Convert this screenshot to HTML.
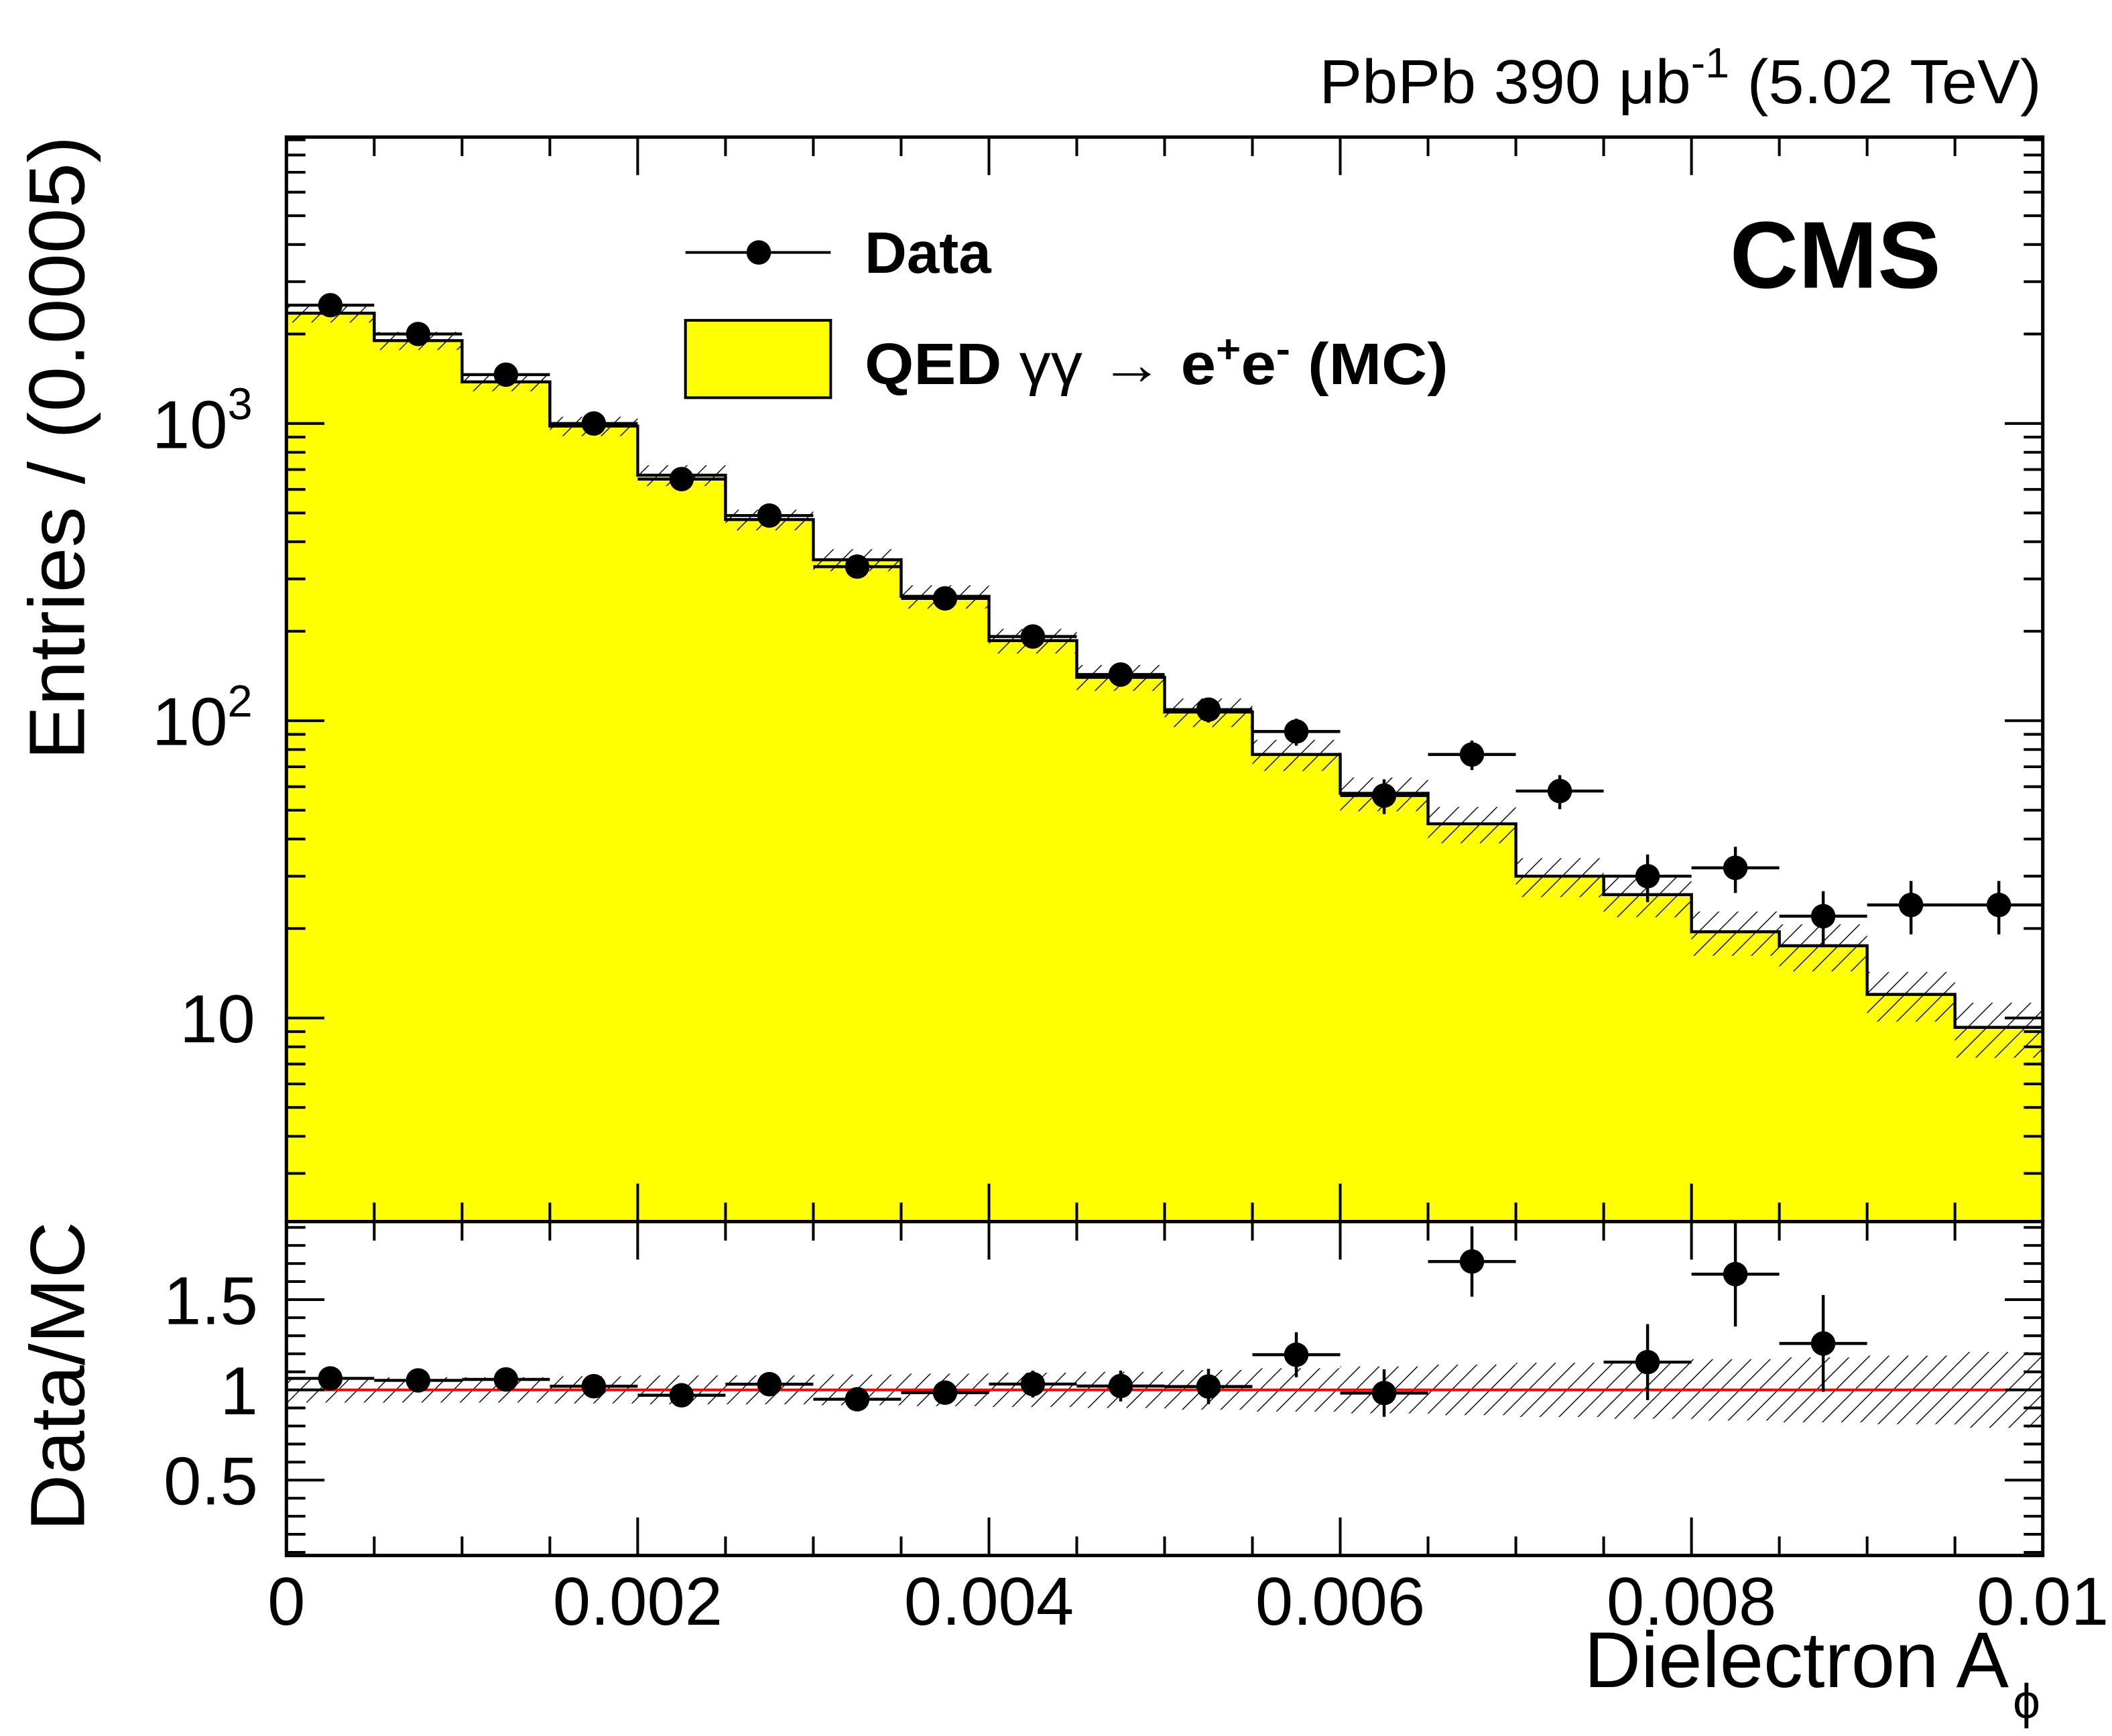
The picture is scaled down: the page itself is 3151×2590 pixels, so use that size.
<!DOCTYPE html>
<html><head><meta charset="utf-8"><style>html,body{margin:0;padding:0;background:#fff}svg{display:block}</style></head>
<body>
<svg id="c" width="3151" height="2590" viewBox="0 0 1556 1279" xmlns="http://www.w3.org/2000/svg" font-family="Liberation Sans, sans-serif">
<defs>
<pattern id="hatch" patternUnits="userSpaceOnUse" width="10" height="10" patternTransform="rotate(45)">
<line x1="0" y1="0" x2="0" y2="10" stroke="#000" stroke-width="1.4"/>
</pattern>
</defs>
<g id="main"></g>
<text x="1504" y="76" font-size="46" text-anchor="end" textLength="532" lengthAdjust="spacingAndGlyphs">PbPb 390 μb<tspan dy="-19" font-size="31">-1</tspan><tspan dy="19"> (5.02 TeV)</tspan></text>
<text x="1430" y="212" font-size="70" font-weight="bold" text-anchor="end">CMS</text>
<g>
<line x1="505" y1="186" x2="612" y2="186" stroke="#000" stroke-width="2"/>
<circle cx="559" cy="186" r="9"/>
<text x="637" y="201" font-size="43" font-weight="bold">Data</text>
<rect x="505" y="236" width="107" height="57" fill="#ffff00" stroke="#000" stroke-width="2"/>
<text x="637" y="283" font-size="43" font-weight="bold" textLength="430" lengthAdjust="spacingAndGlyphs">QED <tspan font-weight="normal">γγ</tspan>  → e<tspan dy="-16" font-size="29">+</tspan><tspan dy="16">e</tspan><tspan dy="-16" font-size="29">-</tspan><tspan dy="16"> (MC)</tspan></text>
</g>
<text transform="translate(62,560) rotate(-90)" font-size="58" textLength="460" lengthAdjust="spacingAndGlyphs">Entries / (0.0005)</text>
<text transform="translate(62,1128) rotate(-90)" font-size="57" textLength="228" lengthAdjust="spacingAndGlyphs">Data/MC</text>
<text x="1167" y="1243" font-size="58" textLength="313" lengthAdjust="spacingAndGlyphs">Dielectron A</text>
<text x="1483" y="1266" font-size="36">ϕ</text>
</svg>
<script>
const binEdges0 = 0, binWidth = 0.0005;
const dataCounts = [2500,2000,1460,1000,650,490,330,258,192,143,109,92,56,77,58,30,32,22,24,24];
const mcCounts   = [2350,1900,1380,980,670,475,348,262,186,140,107,77,57,45,30,26,19.5,17.5,12,9.3];
const mcRelErr   = [0.07,0.07,0.07,0.075,0.08,0.08,0.085,0.09,0.095,0.10,0.11,0.12,0.13,0.14,0.15,0.16,0.17,0.18,0.19,0.21];
const xTickLabels = ["0","0.002","0.004","0.006","0.008","0.01"];
const xTickValues = [0,0.002,0.004,0.006,0.008,0.01];
const ratioTickValues = [0.5,1,1.5];
const ratioTickLabels = ["0.5","1","1.5"];

const NS="http://www.w3.org/2000/svg";
const g=document.getElementById('main');
const L=211,R=1505,T=101,MB=900,RB=1146;
const xmin=0,xmax=0.01;
const ylogMin=1-150/219, ylogMax=3+211/219;
const rMin=1-122/133, rMax=1+124/133;
const X=v=>L+(v-xmin)/(xmax-xmin)*(R-L);
const Y=v=>MB-(Math.log10(v)-ylogMin)/(ylogMax-ylogMin)*(MB-T);
const YR=v=>RB-(v-rMin)/(rMax-rMin)*(RB-MB);
function el(tag,attrs,parent){const e=document.createElementNS(NS,tag);for(const k in attrs)e.setAttribute(k,attrs[k]);(parent||g).appendChild(e);return e;}
const clipYmain=v=>Math.max(T,Math.min(MB,v));

let d=`M${X(0)},${MB}`;
mcCounts.forEach((m,i)=>{const x0=X(binEdges0+i*binWidth),x1=X(binEdges0+(i+1)*binWidth);d+=`L${x0},${Y(m)}L${x1},${Y(m)}`;});
d+=`L${R},${MB}Z`;
let e=el('path',{d:d,fill:'#ffff00'});


mcCounts.forEach((m,i)=>{const x0=X(i*binWidth),x1=X((i+1)*binWidth);
 const yt=clipYmain(Y(m*(1+mcRelErr[i]))),yb=clipYmain(Y(m*(1-mcRelErr[i])));
 const r=el('rect',{x:x0,y:yt,width:x1-x0,height:yb-yt,fill:'url(#hatch)'});
 
 
});
d='';
mcCounts.forEach((m,i)=>{const x0=X(i*binWidth),x1=X((i+1)*binWidth);d+=(i?'L':'M')+`${x0},${Y(m)}L${x1},${Y(m)}`;});
e=el('path',{d:d,fill:'none',stroke:'#000','stroke-width':2.2});


dataCounts.forEach((n,i)=>{const xc=X((i+0.5)*binWidth),x0=X(i*binWidth),x1=X((i+1)*binWidth);const s=Math.sqrt(n);
 const gg=el('g',{});
 
 
 el('line',{x1:x0,x2:x1,y1:Y(n),y2:Y(n),stroke:'#000','stroke-width':2.2},gg);
 el('line',{x1:xc,x2:xc,y1:Y(n+s),y2:Y(Math.max(n-s,0.01)),stroke:'#000','stroke-width':2.2},gg);
 el('circle',{cx:xc,cy:Y(n),r:9},gg);
});
mcCounts.forEach((m,i)=>{const x0=X(i*binWidth),x1=X((i+1)*binWidth);
 const yt=YR(1+mcRelErr[i]),yb=YR(1-mcRelErr[i]);
 const r=el('rect',{x:x0,y:yt,width:x1-x0,height:yb-yt,fill:'url(#hatch)'});
 
 
});
e=el('line',{x1:L,x2:R,y1:YR(1),y2:YR(1),stroke:'#ff0000','stroke-width':2});


dataCounts.forEach((n,i)=>{const r=n/mcCounts[i];if(r>rMax||r<rMin)return;const er=Math.sqrt(n)/mcCounts[i];
 const xc=X((i+0.5)*binWidth),x0=X(i*binWidth),x1=X((i+1)*binWidth);
 const gg=el('g',{});
 
 
 el('line',{x1:x0,x2:x1,y1:YR(r),y2:YR(r),stroke:'#000','stroke-width':2.2},gg);
 el('line',{x1:xc,x2:xc,y1:Math.max(MB,YR(r+er)),y2:Math.min(RB,YR(r-er)),stroke:'#000','stroke-width':2.2},gg);
 el('circle',{cx:xc,cy:YR(r),r:9},gg);
});
e=el('rect',{x:L,y:T,width:R-L,height:MB-T,fill:'none',stroke:'#000','stroke-width':2.5});


e=el('rect',{x:L,y:MB,width:R-L,height:RB-MB,fill:'none',stroke:'#000','stroke-width':2.5});


const tk=el('g',{stroke:'#000','stroke-width':2});


for(let i=0;i<=20;i++){const v=i*0.0005,x=X(v);const big=i%4===0;const l=big?28:14;
 [[T,1],[MB,-1],[MB,1],[RB,-1]].forEach(([y,s])=>el('line',{x1:x,x2:x,y1:y,y2:y+s*l},tk));}
for(let dec=0;dec<=3;dec++)for(let m=1;m<10;m++){const v=m*Math.pow(10,dec);const lv=Math.log10(v);if(lv<ylogMin||lv>ylogMax)continue;const y=Y(v);const l=m===1?28:14;
 el('line',{x1:L,x2:L+l,y1:y,y2:y},tk);el('line',{x1:R,x2:R-l,y1:y,y2:y},tk);}
for(let k=1;k<=19;k++){const v=k*0.1;if(v<rMin||v>rMax)continue;const y=YR(v);const l=(k%5===0)?28:14;
 el('line',{x1:L,x2:L+l,y1:y,y2:y},tk);el('line',{x1:R,x2:R-l,y1:y,y2:y},tk);}
xTickValues.forEach((v,i)=>{let x=X(v);
 const t=el('text',{x:x,y:1197,'font-size':50,'text-anchor':'middle'});t.textContent=xTickLabels[i];
 
 });
const yLab=[[1000,'3'],[100,'2']];
yLab.forEach(([v,p])=>{const t=el('text',{x:186,y:Y(v)+18,'font-size':50,'text-anchor':'end'});t.innerHTML='10<tspan dy="-21" font-size="33">'+p+'</tspan>';
 
 });
let t10=el('text',{x:188,y:Y(10)+18,'font-size':50,'text-anchor':'end'});t10.textContent='10';


ratioTickValues.forEach((v,i)=>{const t=el('text',{x:190,y:YR(v)+18,'font-size':50,'text-anchor':'end'});t.textContent=ratioTickLabels[i];
 
 });
</script>
</body></html>
